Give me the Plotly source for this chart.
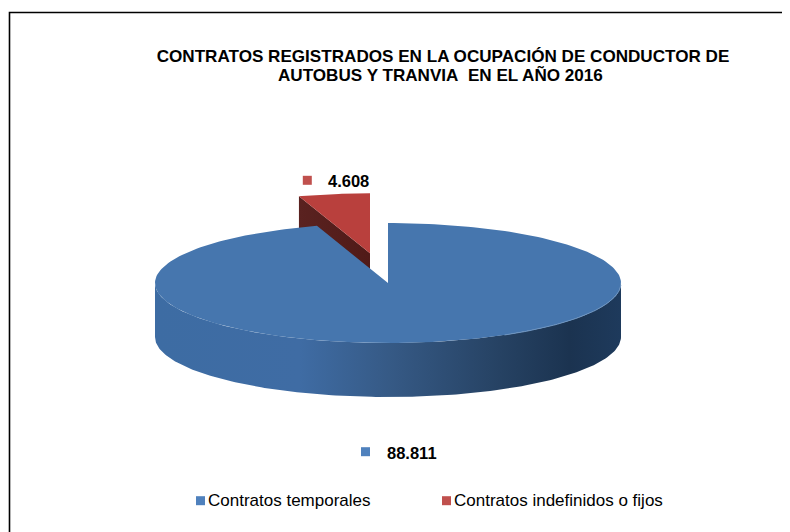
import numpy as np
import plotly.graph_objects as go

# --- data
categories = ["Contratos temporales", "Contratos indefinidos o fijos"]
values = [88811, 4608]
value_labels = ["88.811", "4.608"]
title_lines = ["CONTRATOS REGISTRADOS EN LA OCUPACIÓN DE CONDUCTOR DE",
               "AUTOBUS Y TRANVIA\u00a0 EN EL AÑO 2016"]

# --- drawing geometry (x / y axes are page pixels; the page body has an 8px margin)
W, H, PAGE_MARGIN = 790, 532, 8
CX, CY, RX, RY, DEPTH = 388, 283, 233, 60, 54
PULL = 0.5
BLUE_TOP, RED_TOP = "#4676ae", "#b9403d"
BLUE_KEY, RED_KEY = "#4f81bd", "#c0504d"
WALL_STOPS = [[0.0, "rgb(61,108,163)"], [0.31, "rgb(63,108,164)"], [0.5, "rgb(54,90,134)"],
              [0.74, "rgb(38,66,99)"], [0.89, "rgb(27,51,80)"], [1.0, "rgb(30,58,92)"]]
RED_WALL_STOPS = [[0.0, "rgb(90,34,32)"], [1.0, "rgb(80,26,24)"]]


def pt(deg, cx=CX, cy=CY):
    a = np.radians(deg)
    return cx + RX * np.sin(a), cy - RY * np.cos(a)


total = sum(values)
blue_end = 360 * values[0] / total
red_mid = (blue_end + 360) / 2
ox = PULL * RX * np.sin(np.radians(red_mid))
oy = -PULL * RY * np.cos(np.radians(red_mid))

fig = go.Figure()


def poly(xs, ys, color=None, gradient=None, name=None):
    style = dict(fillgradient=dict(type="horizontal", colorscale=gradient)) if gradient else dict(fillcolor=color)
    fig.add_trace(go.Scatter(x=list(xs), y=list(ys), mode="lines", fill="toself",
                             line=dict(width=0, color=color or "rgba(0,0,0,0)"),
                             hoverinfo="skip", showlegend=False, name=name, **style))


# exploded red slice: cut-edge wall, then top face
acx, acy = CX + ox, CY + oy
lx, ly = pt(blue_end, acx, acy)
poly([acx, lx, lx, acx], [acy, ly, ly + DEPTH, acy + DEPTH], gradient=RED_WALL_STOPS)
ang = np.linspace(blue_end, 360, 24)
rx_, ry_ = pt(ang, acx, acy)
poly(np.r_[acx, rx_], np.r_[acy, ry_], RED_TOP, name=categories[1])

# blue slice: curved front wall, then top face, then a light rim on the lit side
front = np.linspace(90, 270, 181)
fx, fy = pt(front)
poly(np.r_[fx, fx[::-1]], np.r_[fy, fy[::-1] + DEPTH], gradient=WALL_STOPS)
ang = np.linspace(0, blue_end, 240)
bx, by = pt(ang)
poly(np.r_[CX, bx], np.r_[CY, by], BLUE_TOP, name=categories[0])
rim = np.linspace(92, 150, 50)
fig.add_trace(go.Scatter(x=pt(rim)[0], y=pt(rim)[1], mode="lines",
                         line=dict(color="#6d94c0", width=1), hoverinfo="skip", showlegend=False))


# data labels with their keys
def keyed(kx, ky, tx, ty, text, color, size, bold=False):
    fig.add_trace(go.Scatter(
        x=[kx], y=[ky], mode="markers", marker=dict(symbol="square", size=size, color=color),
        hoverinfo="skip", showlegend=False))
    fig.add_annotation(x=tx, y=ty, text=("<b>%s</b>" % text) if bold else text,
                       xref="x", yref="y", xanchor="left", yanchor="middle", showarrow=False,
                       font=dict(size=size_of[bold], color="#000000"), borderpad=0, borderwidth=0)


size_of = {True: 16.5, False: 17.0}
keyed(365.5, 451.7, 386.5, 452.7, value_labels[0], BLUE_KEY, 9, True)
keyed(307.3, 180.3, 328, 181, value_labels[1], RED_KEY, 9, True)
keyed(200.5, 500.7, 207.5, 500, categories[0], BLUE_KEY, 9)
keyed(446.5, 500.7, 453.5, 500, categories[1], RED_KEY, 9)

# second title line
fig.add_annotation(x=440.5, y=75, text="<b>%s</b>" % title_lines[1], xref="x", yref="y",
                   xanchor="center", yanchor="middle", showarrow=False,
                   font=dict(size=17.1, color="#000000"))

fig.update_layout(
    width=W - PAGE_MARGIN, height=H - PAGE_MARGIN, autosize=False, margin=dict(l=0, r=0, t=0, b=0),
    paper_bgcolor="white", plot_bgcolor="white", showlegend=False,
    font=dict(family="Liberation Sans, Arial, sans-serif", color="#000000"),
    title=dict(text="<b>%s</b>" % title_lines[0], x=(443 - PAGE_MARGIN) / (W - PAGE_MARGIN), xanchor="center",
               y=1 - (56 - PAGE_MARGIN) / (H - PAGE_MARGIN), yanchor="middle",
               font=dict(size=17.1, color="#000000")),
    xaxis=dict(range=[PAGE_MARGIN, W], visible=False, fixedrange=True),
    yaxis=dict(range=[H, PAGE_MARGIN], visible=False, fixedrange=True),
    shapes=[dict(type="path", path="M 9.5 532 L 9.5 12.5 L 790 12.5", xref="x", yref="y",
                 line=dict(color="#000000", width=1.6), layer="above")],
)

fig.write_html("out.html", config=dict(displayModeBar=False))
